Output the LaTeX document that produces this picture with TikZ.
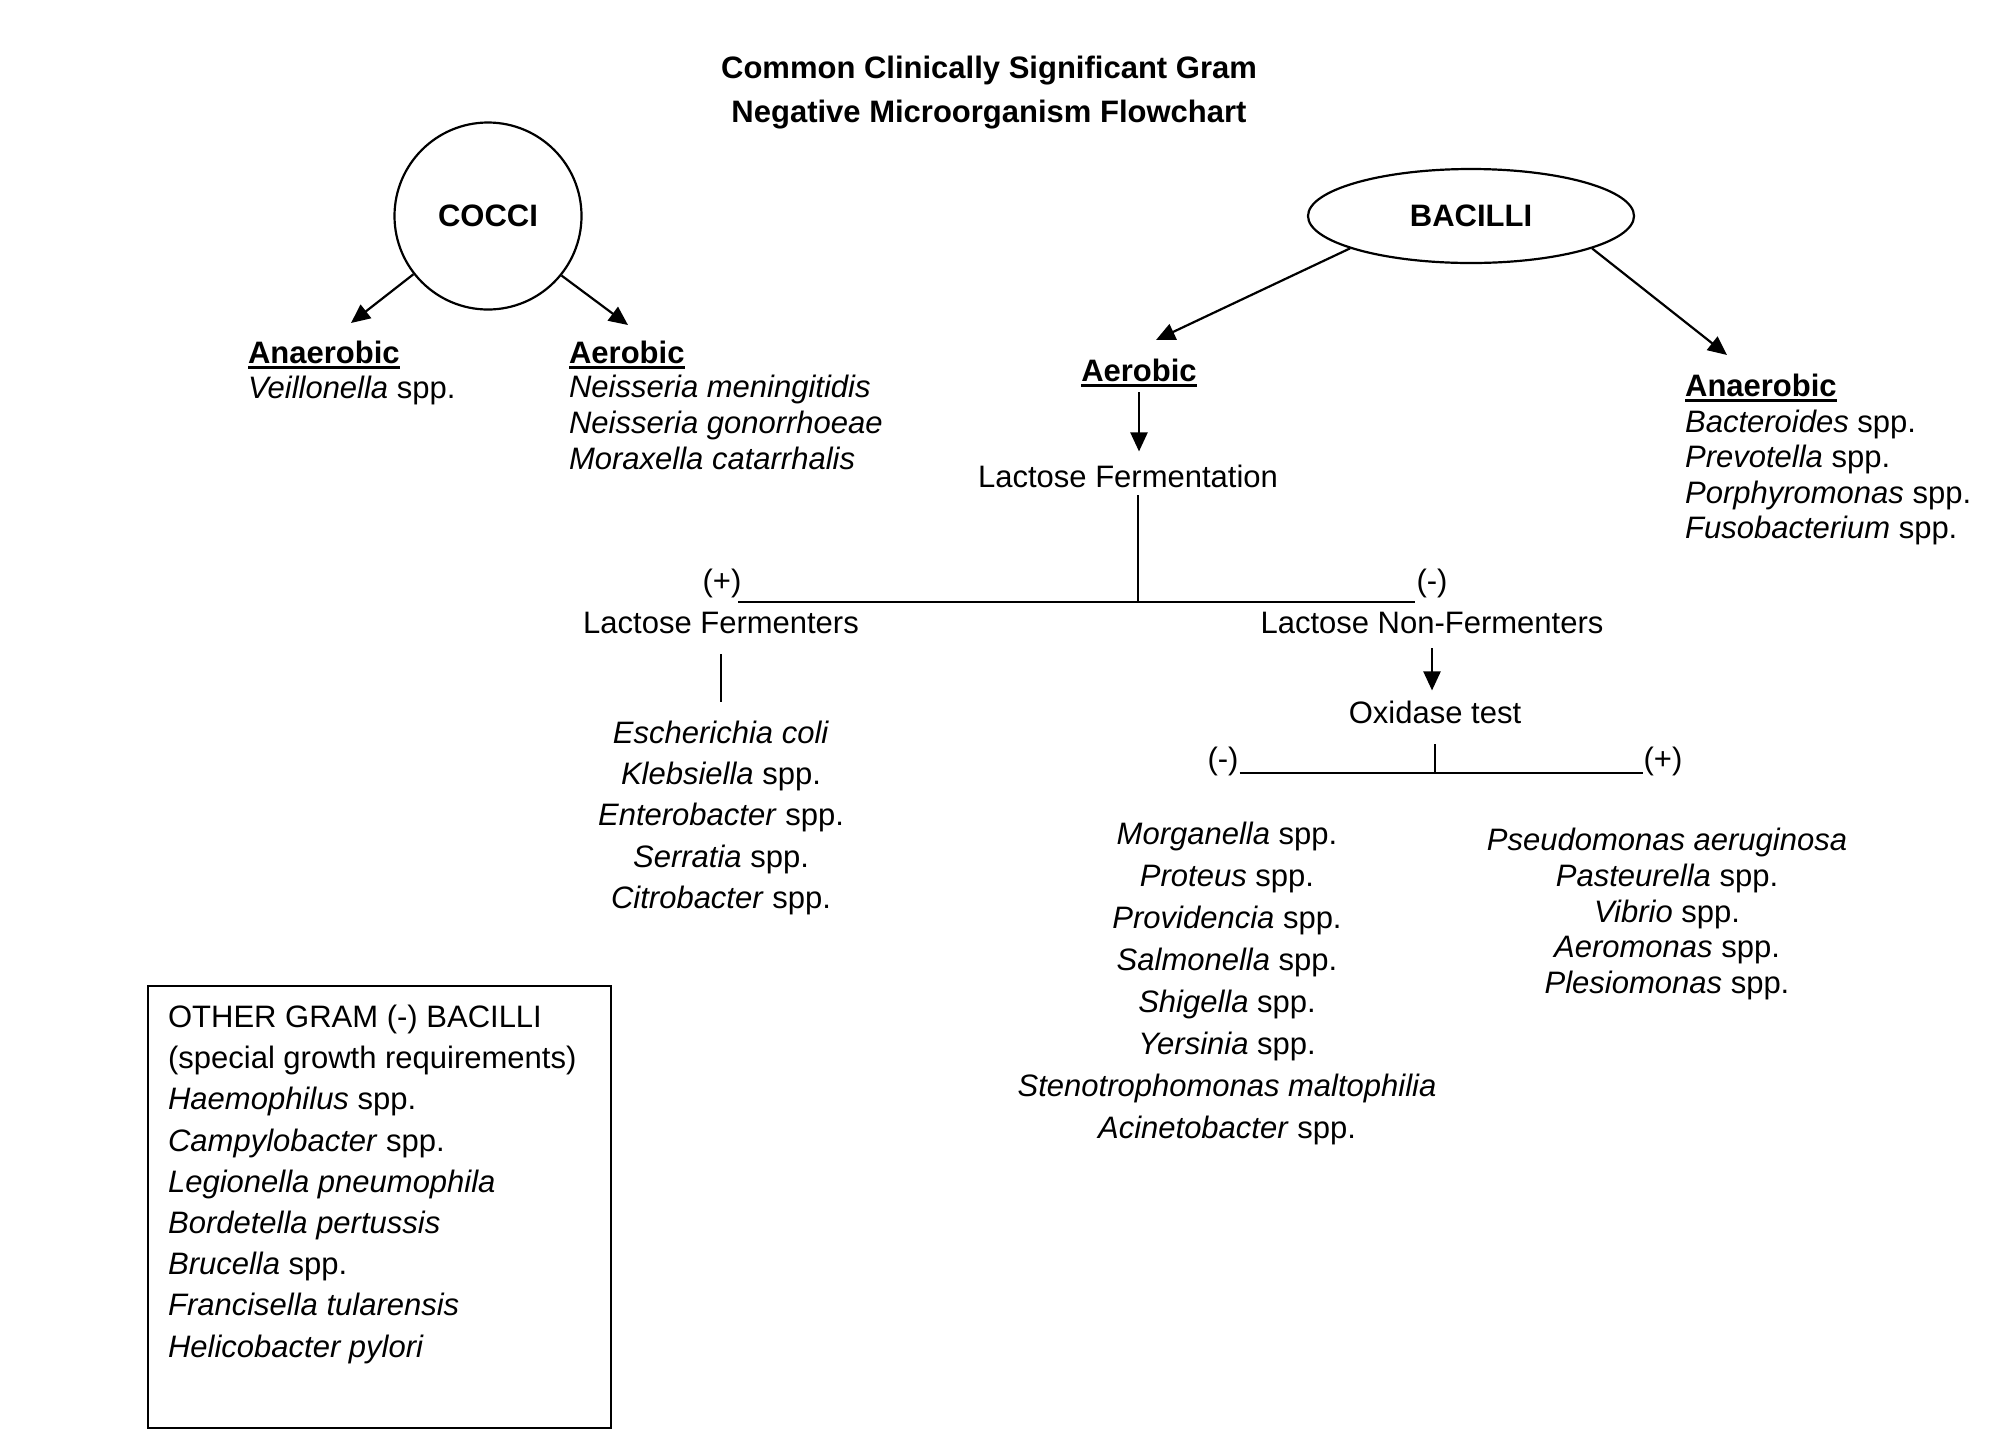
\documentclass[tikz,border=0pt]{standalone}
\usepackage{fontspec}
\setmainfont{Liberation Sans}
\usetikzlibrary{shapes.geometric}
\usetikzlibrary{arrows.meta}

\newcommand{\uhead}[1]{\setbox0\hbox{\bfseries #1}\rlap{\rule[-3pt]{\wd0}{1.3pt}}\box0}

\begin{document}
\begin{tikzpicture}[x=0.5pt,y=-0.5pt,line width=1.1pt,
    txt/.style={inner sep=0pt,font=\fontsize{15.5}{18}\selectfont},
    hd/.style={inner sep=0pt,font=\fontsize{15.5}{18}\selectfont\bfseries},
    arr/.style={-{Triangle[length=9.5pt,width=8.5pt]}}]
  \useasboundingbox (0,0) rectangle (2000,1436);
  \node[hd,align=center,anchor=north,font=\fontsize{15.5}{22}\selectfont\bfseries] (title) at (989,55) {Common Clinically Significant Gram\\Negative Microorganism Flowchart};
  % cocci
  \node[hd,draw,circle,minimum size=93.5pt] (cocci) at (488,216) {COCCI};
  \node[txt,anchor=base west] (cAna) at (247,363) {\uhead{Anaerobic}};
  \node[txt,anchor=base west] (veil) at (247,398) {\textit{Veillonella} spp.};
  \node[txt,anchor=base west] (cAer) at (568,363) {\uhead{Aerobic}};
  \node[txt,align=left,anchor=north west] (cAerList) at (568,374) {\textit{Neisseria meningitidis}\\\textit{Neisseria gonorrhoeae}\\\textit{Moraxella catarrhalis}};
  \coordinate (cAnaTip) at (351,323);
  \coordinate (cAerTip) at (628,325);
  \draw[arr] (cocci.218) -- (cAnaTip);
  \draw[arr] (cocci.321) -- (cAerTip);
  % bacilli
  \node[hd,draw,ellipse,minimum width=163pt,minimum height=47pt] (bacilli) at (1471,216) {BACILLI};
  \node[txt,anchor=base] (bAer) at (1139,381) {\uhead{Aerobic}};
  \node[txt,anchor=base west] (bAna) at (1684,396) {\uhead{Anaerobic}};
  \node[txt,align=left,anchor=north west,font=\fontsize{15.5}{17.7}\selectfont] (bAnaList) at (1684,409) {\textit{Bacteroides} spp.\\\textit{Prevotella} spp.\\\textit{Porphyromonas} spp.\\\textit{Fusobacterium} spp.};
  \coordinate (bAerTip) at (1156,340);
  \coordinate (bAnaTip) at (1727,355);
  \draw[arr] (bacilli.195) -- (bAerTip);
  \draw[arr] (bacilli.345) -- (bAnaTip);
  % lactose
  \node[txt,anchor=base] (lacFerm) at (1128,487) {Lactose Fermentation};
  \draw[arr,shorten <=2pt,shorten >=6pt] (bAer.south) -- (bAer.south |- lacFerm.north);
  \node[txt] (plusA) at (722,583) {(+)};
  \node[txt] (minusA) at (1432,583) {(-)};
  \coordinate (lacJ) at (1138,602);
  \draw ([yshift=-3.5pt]lacFerm.south -| lacJ) -- (lacJ);
  \draw ([xshift=-2pt]lacJ -| plusA.east) -- (lacJ -| minusA.west);
  \node[txt,anchor=base] (lacPos) at (721,633) {Lactose Fermenters};
  \node[txt,anchor=base] (lacNeg) at (1432,633) {Lactose Non-Fermenters};
  \node[txt,align=center,anchor=north,font=\fontsize{15.5}{20.6}\selectfont] (fermList) at (721,720) {\textit{Escherichia coli}\\\textit{Klebsiella} spp.\\\textit{Enterobacter} spp.\\\textit{Serratia} spp.\\\textit{Citrobacter} spp.};
  \draw[shorten <=10pt,shorten >=9pt] (lacPos.south) -- (lacPos.south |- fermList.north);
  % oxidase
  \node[txt,anchor=base] (oxTest) at (1435,723) {Oxidase test};
  \draw[arr,shorten <=7pt,shorten >=4.5pt] (lacNeg.south) -- (lacNeg.south |- oxTest.north);
  \node[txt] (minusB) at (1223,761) {(-)};
  \node[txt] (plusB) at (1663,761) {(+)};
  \coordinate (oxJ) at (1435,773);
  \draw ([yshift=-10pt]oxTest.south -| oxJ) -- (oxJ);
  \draw (oxJ -| minusB.east) -- (oxJ -| plusB.west);
  \node[txt,align=center,anchor=north,font=\fontsize{15.5}{21}\selectfont] (oxNegList) at (1227,821) {\textit{Morganella} spp.\\\textit{Proteus} spp.\\\textit{Providencia} spp.\\\textit{Salmonella} spp.\\\textit{Shigella} spp.\\\textit{Yersinia} spp.\\\textit{Stenotrophomonas maltophilia}\\\textit{Acinetobacter} spp.};
  \node[txt,align=center,anchor=north,font=\fontsize{15.5}{17.9}\selectfont] (oxPosList) at (1667,827) {\textit{Pseudomonas aeruginosa}\\\textit{Pasteurella} spp.\\\textit{Vibrio} spp.\\\textit{Aeromonas} spp.\\\textit{Plesiomonas} spp.};
  % other bacilli
  \node[draw,anchor=north west,minimum width=231.5pt,minimum height=221pt] (otherBox) at (147,985) {};
  \node[txt,align=left,anchor=north west,font=\fontsize{15.5}{20.6}\selectfont] (otherList) at (167,1004) {OTHER GRAM (-) BACILLI\\(special growth requirements)\\\textit{Haemophilus} spp.\\\textit{Campylobacter} spp.\\\textit{Legionella pneumophila}\\\textit{Bordetella pertussis}\\\textit{Brucella} spp.\\\textit{Francisella tularensis}\\\textit{Helicobacter pylori}};
\end{tikzpicture}
\end{document}
